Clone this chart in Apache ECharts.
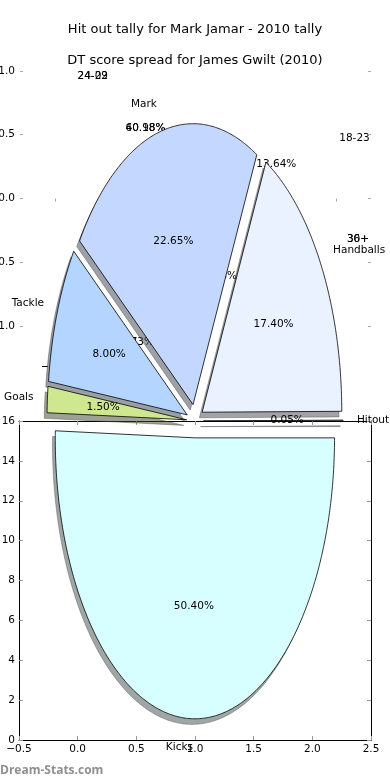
<!DOCTYPE html>
<html>
<head>
<meta charset="utf-8">
<script src="https://cdn.jsdelivr.net/npm/echarts@6/dist/echarts.min.js"></script>
<style>
html,body{margin:0;padding:0;background:#fff;}
#chart{width:390px;height:780px;}
</style>
</head>
<body>
<div id="chart"></div>
<script>
// ---- data ----
const titleTop = 'Hit out tally for Mark Jamar - 2010 tally';
const titleSecond = 'DT score spread for James Gwilt (2010)';
const categories = ['Hitout', 'Handballs', 'Mark', 'Tackle', 'Goals', 'Kicks'];
const values = [0.05, 17.40, 22.65, 8.00, 1.50, 50.40];
const pctLabels = ['0.05%', '17.40%', '22.65%', '8.00%', '1.50%', '50.40%'];
const xTickValues = [-0.5, 0.0, 0.5, 1.0, 1.5, 2.0, 2.5];
const yTickValues = [0, 2, 4, 6, 8, 10, 12, 14, 16];
const upperYTicks = [-1.0, -0.5, 0.0, 0.5, 1.0];
const upperXTicks = [0.1, 0.3, 0.5, 0.7, 0.9];
// text of the other (covered) chart
const hiddenAgeLabels = ['24-29', '24-02', '18-23', '30+', '36+'];
const hiddenPctLabels = ['60.98%', '40.18%', '13.64%', '21.46%', '0.73%'];
const watermark = 'Dream-Stats.com';

// ---- layout / style ----
const FONT = '"DejaVu Sans", "Liberation Sans", sans-serif';
const pieCenter = [1.0, 16.0];
const rx = 1.19, ry = 14.09;      // radii in data units of the lower axes
const explode = 0.06;
const shadowOff = 0.02;
const sliceColors = ['#e6e0ff', '#eaf1ff', '#c4d8ff', '#b3d5ff', '#cfe88f', '#d8ffff'];

const total = values.reduce((a, b) => a + b, 0);
const cum = [0];
values.forEach((v, i) => cum.push(cum[i] + v));

function geom(i) {
  const a0 = cum[i] / total * 360, a1 = cum[i + 1] / total * 360;
  const mid = (a0 + a1) / 2 * Math.PI / 180;
  return {a0, a1, mid,
    ex: pieCenter[0] + explode * rx * Math.cos(mid),
    ey: pieCenter[1] + explode * ry * Math.sin(mid)};
}
function wedge(api, i, ox, oy) {
  const g = geom(i);
  const cx = g.ex + ox, cy = g.ey + oy;
  const pts = [api.coord([cx, cy])];
  const n = Math.max(2, Math.ceil((g.a1 - g.a0) / 0.5));
  for (let k = 0; k <= n; k++) {
    const t = (g.a0 + (g.a1 - g.a0) * k / n) * Math.PI / 180;
    pts.push(api.coord([cx + rx * Math.cos(t), cy + ry * Math.sin(t)]));
  }
  return pts;
}
function hexToShadow(hex) {
  const r = parseInt(hex.slice(1, 3), 16), g = parseInt(hex.slice(3, 5), 16), b = parseInt(hex.slice(5, 7), 16);
  return 'rgba(' + Math.round(r * 0.3) + ',' + Math.round(g * 0.3) + ',' + Math.round(b * 0.3) + ',0.5)';
}

const pieData = values.map((v, i) => [i, v]);

const chart = echarts.init(document.getElementById('chart'), null, {renderer: 'canvas'});

const tickStyle = {color: '#000', fontSize: 10.5, fontFamily: FONT};
const graphics = [];
function addText(text, x, y, align) {
  graphics.push({type: 'text', z: 0, style: {text, x, y, fill: '#000', fontSize: 10.5, fontFamily: FONT, align: align || 'center', verticalAlign: 'middle'}});
}
addText(hiddenAgeLabels[0], 77.5, 76.5, 'left');
addText(hiddenAgeLabels[1], 77.5, 76.5, 'left');
addText(hiddenAgeLabels[2], 354.5, 138);
addText(hiddenAgeLabels[3], 358, 239);
addText(hiddenAgeLabels[4], 358, 239);
addText(hiddenPctLabels[0], 145.5, 128.5);
addText(hiddenPctLabels[1], 145.5, 128.5);
addText(hiddenPctLabels[2], 276.3, 164.3);
addText(hiddenPctLabels[3], 237, 276, 'right');
addText(hiddenPctLabels[4], 154, 342, 'right');
graphics.push({type: 'line', z: 0, shape: {x1: 42, y1: 366.5, x2: 48, y2: 366.5}, style: {stroke: '#000', lineWidth: 1}});
graphics.push({type: 'text', z: 5, style: {text: titleTop, x: 195, y: 30, fill: '#000', fontSize: 13, fontFamily: FONT, align: 'center', verticalAlign: 'middle'}});
graphics.push({type: 'text', z: 5, style: {text: titleSecond, x: 195, y: 61, fill: '#000', fontSize: 13, fontFamily: FONT, align: 'center', verticalAlign: 'middle'}});
graphics.push({type: 'text', z: 5, style: {text: watermark, x: 0, y: 770.5, fill: '#8f8f8f', fontSize: 12, fontWeight: 'bold', fontFamily: '"Open Sans", "DejaVu Sans", sans-serif', align: 'left', verticalAlign: 'middle'}});

const option = {
  animation: false,
  backgroundColor: '#fff',
  graphic: graphics,
  grid: [
    {left: 20, top: 39, width: 351, height: 351, containLabel: false, outerBoundsMode: 'none'},
    {left: 19, top: 421, width: 352, height: 319, containLabel: false, outerBoundsMode: 'none'}
  ],
  xAxis: [
    {gridIndex: 0, type: 'value', position: 'top', min: 0, max: 1,
      axisLine: {show: false}, splitLine: {show: false}, axisLabel: {show: false},
      axisTick: {show: true, inside: true, length: 3, customValues: upperXTicks, lineStyle: {color: '#aaa'}}},
    {gridIndex: 1, type: 'value', position: 'bottom', min: xTickValues[0], max: xTickValues[xTickValues.length - 1], interval: 0.5,
      axisLine: {show: true, onZero: false, lineStyle: {color: '#000', width: 1}},
      splitLine: {show: false},
      axisTick: {show: true, inside: true, length: 4, lineStyle: {color: '#999'}},
      axisLabel: Object.assign({margin: 4, formatter: v => (v < 0 ? '\u2212' : '') + Math.abs(v).toFixed(1), showMinLabel: true, showMaxLabel: true}, tickStyle)},
    {gridIndex: 1, type: 'value', position: 'top', min: xTickValues[0], max: xTickValues[xTickValues.length - 1], interval: 0.5,
      axisLine: {show: true, onZero: false, lineStyle: {color: '#000', width: 1}},
      splitLine: {show: false}, axisLabel: {show: false},
      axisTick: {show: true, inside: true, length: 4, lineStyle: {color: '#999'}}}
  ],
  yAxis: [
    {gridIndex: 0, type: 'value', position: 'left', min: -1.5, max: 1.25,
      axisLine: {show: false}, splitLine: {show: false},
      axisTick: {show: true, inside: true, length: 3, customValues: upperYTicks, lineStyle: {color: '#aaa'}},
      axisLabel: Object.assign({margin: 5, customValues: upperYTicks, formatter: v => (v < 0 ? '\u2212' : '') + Math.abs(v).toFixed(1)}, tickStyle)},
    {gridIndex: 0, type: 'value', position: 'right', min: -1.5, max: 1.25,
      axisLine: {show: false}, splitLine: {show: false}, axisLabel: {show: false},
      axisTick: {show: true, inside: true, length: 3, customValues: upperYTicks, lineStyle: {color: '#aaa'}}},
    {gridIndex: 1, type: 'value', position: 'left', min: yTickValues[0], max: yTickValues[yTickValues.length - 1], interval: 2,
      axisLine: {show: true, onZero: false, lineStyle: {color: '#000', width: 1}},
      splitLine: {show: false},
      axisTick: {show: true, inside: true, length: 4, lineStyle: {color: '#999'}},
      axisLabel: Object.assign({margin: 4, showMinLabel: true, showMaxLabel: true}, tickStyle)},
    {gridIndex: 1, type: 'value', position: 'right', min: yTickValues[0], max: yTickValues[yTickValues.length - 1], interval: 2,
      axisLine: {show: true, onZero: false, lineStyle: {color: '#000', width: 1}},
      splitLine: {show: false}, axisLabel: {show: false},
      axisTick: {show: true, inside: true, length: 4, lineStyle: {color: '#999'}}}
  ],
  series: [
    {
      type: 'custom', name: 'shadow', xAxisIndex: 1, yAxisIndex: 2, z: 2, clip: false, silent: true,
      data: pieData,
      renderItem: function (params, api) {
        const i = api.value(0);
        return {type: 'polygon', shape: {points: wedge(api, i, -shadowOff * rx, -shadowOff * ry)},
          style: {fill: hexToShadow(sliceColors[i]), stroke: hexToShadow(sliceColors[i]), lineWidth: 0.8}};
      }
    },
    {
      type: 'custom', name: 'wedges', xAxisIndex: 1, yAxisIndex: 2, z: 3, clip: false, silent: true,
      data: pieData,
      renderItem: function (params, api) {
        const i = api.value(0);
        const g = geom(i);
        const c = Math.cos(g.mid), s = Math.sin(g.mid);
        const lp = api.coord([g.ex + 1.1 * rx * c, g.ey + 1.1 * ry * s]);
        const pp = api.coord([g.ex + 0.6 * rx * c, g.ey + 0.6 * ry * s]);
        return {type: 'group', children: [
          {type: 'polygon', shape: {points: wedge(api, i, 0, 0)},
            style: {fill: sliceColors[i], stroke: '#000', lineWidth: 0.8}},
          {type: 'text', z2: 10, style: {text: categories[i], x: lp[0], y: lp[1], fill: '#000', fontSize: 10.5, fontFamily: FONT,
            align: c > 0 ? 'left' : 'right', verticalAlign: 'middle'}},
          {type: 'text', z2: 10, style: {text: pctLabels[i], x: pp[0], y: pp[1], fill: '#000', fontSize: 10.5, fontFamily: FONT,
            align: 'center', verticalAlign: 'middle'}}
        ]};
      }
    }
  ]
};
chart.setOption(option);
</script>
</body>
</html>
